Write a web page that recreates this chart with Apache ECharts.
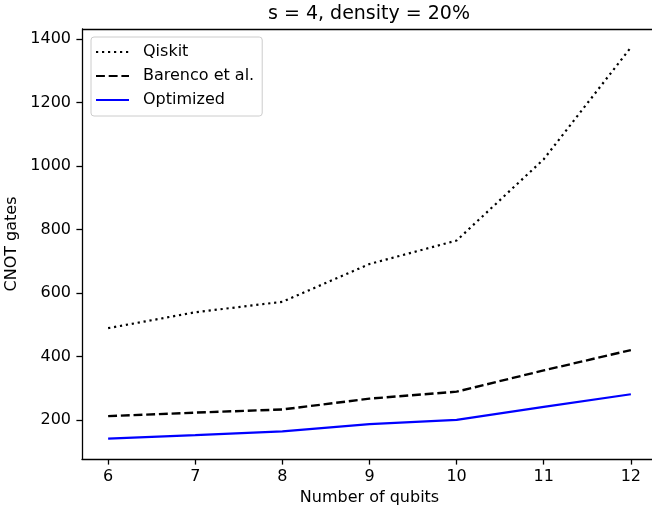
<!DOCTYPE html>
<html>
<head>
<meta charset="utf-8">
<script src="https://cdn.jsdelivr.net/npm/echarts@6/dist/echarts.min.js"></script>
<style>
    html, body { margin: 0; padding: 0; background: #fff; overflow: hidden; }
    /* the plot runs past the right edge of the picture, as in the reference */
    #chart { width: 670px; height: 512px; }
</style>
</head>
<body>
<div id="chart"></div>
<script>
// data
let qubits = [6, 7, 8, 9, 10, 11, 12];
let qiskit = [490, 540, 573, 692, 766, 1022, 1374];
let barenco = [213, 224, 234, 268, 290, 357, 421];
let optimized = [142, 153, 165, 188, 201, 242, 282];
let yTicks = [200, 400, 600, 800, 1000, 1200, 1400];

let font = 'DejaVu Sans';
let yMin = 78;
let yMax = 1432;

let pairs = function(xs, ys) {
    return xs.map(function(x, i) { return [x, ys[i]]; });
};

let myChart = echarts.init(document.getElementById('chart'), null, { renderer: 'canvas' });

let options = {
    animation: false,
    textStyle: { fontFamily: font },
    title: {
        text: 's = 4, density = 20%',
        left: 268,
        top: 5,
        padding: 0,
        textStyle: { fontFamily: font, fontSize: 19, fontWeight: 'normal', color: '#000' }
    },
    legend: {
        left: 91,
        top: 37,
        orient: 'vertical',
        padding: [7, 8, 8, 4],
        itemWidth: 33,
        itemHeight: 14,
        itemGap: 8,
        backgroundColor: 'rgba(255,255,255,0.8)',
        borderColor: '#cccccc',
        borderWidth: 1,
        borderRadius: 3,
        itemStyle: { opacity: 0 },
        textStyle: { fontFamily: font, fontSize: 16, color: '#000', padding: [0, 0, 0, 9] },
        data: ['Qiskit', 'Barenco et al.', 'Optimized']
    },
    grid: {
        left: 82,
        width: 575,
        top: 29,
        bottom: 53,
        outerBoundsMode: 'none',
        containLabel: false,
        show: false
    },
    xAxis: {
        type: 'value',
        min: 5.7,
        max: 12.3,
        name: 'Number of qubits',
        nameLocation: 'middle',
        nameGap: 31,
        nameTextStyle: { fontFamily: font, fontSize: 16, color: '#000' },
        axisLine: { show: true, onZero: false, lineStyle: { color: '#000', width: 1.3 } },
        axisTick: { show: true, length: 5.6, lineStyle: { color: '#000', width: 1.3 }, customValues: qubits },
        axisLabel: { fontFamily: font, fontSize: 16, color: '#000', margin: 10, customValues: qubits },
        splitLine: { show: false }
    },
    yAxis: {
        type: 'value',
        min: yMin,
        max: yMax,
        name: 'CNOT gates',
        nameLocation: 'middle',
        nameRotate: 90,
        nameGap: 58,
        nameTextStyle: { fontFamily: font, fontSize: 16, color: '#000' },
        axisLine: { show: true, onZero: false, lineStyle: { color: '#000', width: 1.3 } },
        axisTick: { show: true, length: 5.6, lineStyle: { color: '#000', width: 1.3 }, customValues: yTicks },
        axisLabel: {
            fontFamily: font,
            fontSize: 16,
            color: '#000',
            margin: 11,
            customValues: yTicks,
            formatter: function(value) { return String(value); }
        },
        splitLine: { show: false }
    },
    series: [
        {
            name: 'Qiskit',
            type: 'line',
            symbol: 'none',
            color: '#000',
            lineStyle: { color: '#000', width: 2.2, type: [2.2, 3.8], cap: 'butt' },
            data: pairs(qubits, qiskit),
            // top spine of the frame
            markLine: {
                silent: true,
                symbol: ['none', 'none'],
                label: { show: false },
                lineStyle: { color: '#000', width: 1.3, type: 'solid' },
                data: [{ yAxis: yMax }]
            }
        },
        {
            name: 'Barenco et al.',
            type: 'line',
            symbol: 'none',
            color: '#000',
            lineStyle: { color: '#000', width: 2.4, type: [8.9, 3.8], cap: 'butt' },
            data: pairs(qubits, barenco)
        },
        {
            name: 'Optimized',
            type: 'line',
            symbol: 'none',
            color: '#0000ff',
            lineStyle: { color: '#0000ff', width: 2.2 },
            data: pairs(qubits, optimized)
        }
    ]
};

myChart.setOption(options);
</script>
</body>
</html>
